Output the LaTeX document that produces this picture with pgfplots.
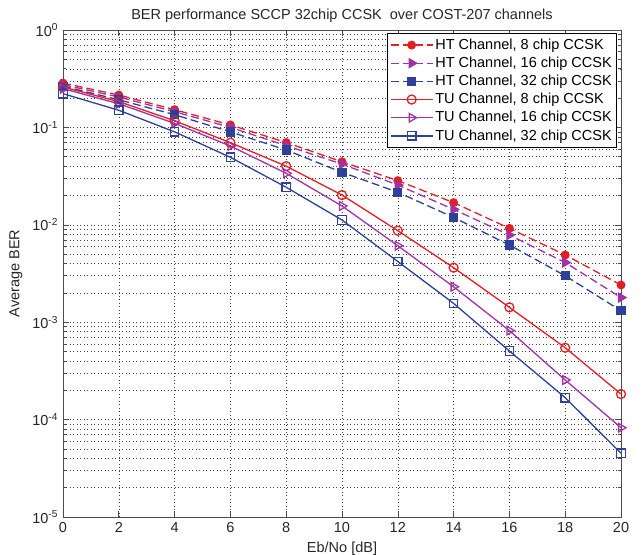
\documentclass[border=0pt]{standalone}
\usepackage{pgfplots}
\pgfplotsset{compat=1.18}
\usepackage{fontspec}
\setmainfont{Liberation Sans}
\definecolor{cRed}{RGB}{228,30,36}
\definecolor{cPur}{RGB}{160,50,165}
\definecolor{cBlu}{RGB}{45,65,155}

\begin{document}
\fontsize{14.5bp}{17bp}\selectfont
\begin{tikzpicture}
\begin{axis}[
    scale only axis,
    width=558bp, height=487bp,
    ymode=log, log basis y=10,
    xmin=0, xmax=20, ymin=1e-5, ymax=1,
    xtick={0,2,...,20},
    ytick={1e-5,1e-4,1e-3,1e-2,1e-1,1},
    minor ytick={2e-5,3e-5,4e-5,5e-5,6e-5,7e-5,8e-5,9e-5,
                 2e-4,3e-4,4e-4,5e-4,6e-4,7e-4,8e-4,9e-4,
                 2e-3,3e-3,4e-3,5e-3,6e-3,7e-3,8e-3,9e-3,
                 2e-2,3e-2,4e-2,5e-2,6e-2,7e-2,8e-2,9e-2,
                 2e-1,3e-1,4e-1,5e-1,6e-1,7e-1,8e-1,9e-1},
    yticklabel={10\textsuperscript{\pgfmathprintnumber[fixed,precision=0]{\tick}}},
    /pgf/number format/assume math mode=true,
    grid=both,
    major grid style={black!75, line width=0.5bp, dash pattern=on 1bp off 2.5bp},
    minor grid style={black!75, line width=0.5bp, dash pattern=on 1bp off 2.5bp},
    axis line style={black!70, line width=0.8bp},
    tick style={black!70, line width=0.6bp},
    major tick length=6bp, minor tick length=3.5bp,
    tick label style={font=\fontsize{14.5bp}{17bp}\selectfont, black!85},
    label style={font=\fontsize{14.5bp}{17bp}\selectfont, black!85},
    xlabel={Eb/No [dB]},
    ylabel={Average BER},
    title={BER performance SCCP 32chip CCSK\ \ over COST-207 channels},
    title style={font=\fontsize{14.5bp}{17bp}\selectfont, black!85, yshift=-4bp},
    clip=false,
    legend cell align=left,
    legend style={at={(0.993,0.993)}, anchor=north east, draw=black, line width=0.6bp,
        font=\fontsize{14.5bp}{17bp}\selectfont, row sep=1.5bp, inner sep=3bp},
    legend image code/.code={\draw[mark repeat=2,mark phase=2]
        plot coordinates {(0bp,0bp)(21bp,0bp)(42bp,0bp)};},
    every axis plot/.append style={line width=1.3bp},
]
% HT channel (dashed, filled marks)
\addplot[cRed, dash pattern=on 8bp off 4bp, mark=*, mark size=3.8bp, mark options={solid, fill=cRed}]
  coordinates {(0,0.285)(2,0.215)(4,0.152)(6,0.106)(8,0.070)(10,0.0444)(12,0.0284)(14,0.0169)(16,0.0092)(18,0.0049)(20,0.00241)};
\addlegendentry{HT Channel, 8 chip CCSK}
\addplot[cPur, dash pattern=on 8bp off 4bp, mark=triangle*, mark size=5bp, mark options={solid, fill=cPur, rotate=-90}]
  coordinates {(0,0.275)(2,0.205)(4,0.145)(6,0.100)(8,0.065)(10,0.042)(12,0.0256)(14,0.0144)(16,0.00785)(18,0.0041)(20,0.00179)};
\addlegendentry{HT Channel, 16 chip CCSK}
\addplot[cBlu, dash pattern=on 8bp off 4bp, mark=square*, mark size=4bp, mark options={solid, fill=cBlu}]
  coordinates {(0,0.265)(2,0.192)(4,0.135)(6,0.090)(8,0.0586)(10,0.0346)(12,0.0216)(14,0.0119)(16,0.0062)(18,0.0030)(20,0.00131)};
\addlegendentry{HT Channel, 32 chip CCSK}
% TU channel (solid, open marks)
\addplot[cRed, solid, mark=o, mark size=4.5bp, mark options={fill=white}]
  coordinates {(0,0.26)(2,0.184)(4,0.117)(6,0.0697)(8,0.040)(10,0.0202)(12,0.0087)(14,0.00363)(16,0.00142)(18,0.000547)(20,0.000183)};
\addlegendentry{TU Channel, 8 chip CCSK}
\addplot[cPur, solid, mark=triangle, mark size=5bp, mark options={fill=white, rotate=-90}]
  coordinates {(0,0.25)(2,0.175)(4,0.110)(6,0.0644)(8,0.0338)(10,0.0156)(12,0.0061)(14,0.00231)(16,0.00082)(18,0.000255)(20,0.0000826)};
\addlegendentry{TU Channel, 16 chip CCSK}
\addplot[cBlu, solid, mark=square, mark size=4.2bp, mark options={fill=white}]
  coordinates {(0,0.222)(2,0.150)(4,0.090)(6,0.0493)(8,0.0243)(10,0.0112)(12,0.0042)(14,0.00156)(16,0.000506)(18,0.000168)(20,0.0000451)};
\addlegendentry{TU Channel, 32 chip CCSK}
\end{axis}
\pgfresetboundingbox
\path ([xshift=-63bp,yshift=-38bp]current axis.south west) rectangle ([xshift=22bp,yshift=30bp]current axis.north east);
\end{tikzpicture}
\end{document}
